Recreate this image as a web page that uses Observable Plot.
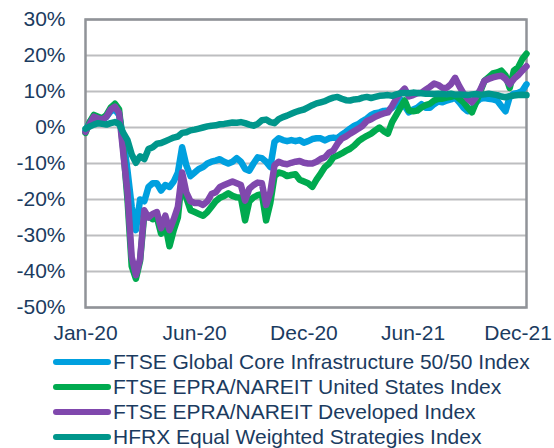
<!DOCTYPE html>
<html>
<head>
<meta charset="utf-8">
<script src="https://cdn.jsdelivr.net/npm/d3@7"></script>
<script src="https://cdn.jsdelivr.net/npm/@observablehq/plot@0.6"></script>
<style>
  html, body { margin: 0; padding: 0; background: #fff; }
  body { width: 554px; height: 448px; overflow: hidden; font-family: "Liberation Sans", Arial, sans-serif; }
  #chart svg { display: block; }
  .legend { color: #1b3b60; font-size: 21px; line-height: 1; }
  .row { display: flex; align-items: center; height: 25px; white-space: nowrap; }
  .sw { width: 58px; height: 6px; border-radius: 3px; margin-left: 53px; margin-right: 2px; flex: none; }
</style>
</head>
<body>
<div id="chart"></div>
<div class="legend" id="legend"></div>
<script>
// Series names and colours (legend order = drawing order)
const seriesNames = [
  "FTSE Global Core Infrastructure 50/50 Index",
  "FTSE EPRA/NAREIT United States Index",
  "FTSE EPRA/NAREIT Developed Index",
  "HFRX Equal Weighted Strategies Index"
];
const seriesColors = ["#00a0df", "#00aa4f", "#8048ad", "#00968b"];

// X axis tick labels and the weekly category index where each appears
const xTickLabels = ["Jan-20", "Jun-20", "Dec-20", "Jun-21", "Dec-21"];
const xTickIndex = [0, 26, 52, 78, 103];

// Y axis ticks (percent)
const yTicks = [30, 20, 10, 0, -10, -20, -30, -40, -50];

// Weekly cumulative returns (%), Jan 2020 – Dec 2021
const infra = [
  -0.8, 1.5, 3.0, 2.5, 2.0, 3.0, 4.5, 5.0, 3.5, -3.0,
  -12.0, -22.0, -28.5, -20.0, -20.5, -16.5, -15.5, -15.5, -17.5, -16.0,
  -16.5, -15.0, -12.5, -5.5, -10.5, -13.5, -12.5, -11.5, -11.0, -10.0,
  -9.5, -9.2, -8.8, -9.5, -10.0, -9.5, -8.5, -9.5, -11.5, -12.0,
  -10.0, -8.3, -8.5, -9.5, -11.0, -4.0, -3.0, -3.5, -3.8, -3.5,
  -3.8, -3.5, -4.2, -3.8, -3.2, -3.0, -3.0, -3.6, -3.0, -2.8,
  -3.0, -2.0, -1.2, -0.3, 0.5, 1.0, 1.8, 2.5, 3.5, 4.0,
  4.2, 4.6, 4.7, 5.5, 6.5, 7.8, 6.0, 4.2, 5.0, 5.5,
  6.5, 5.5, 5.5, 6.5, 7.2, 7.0, 7.5, 7.8, 8.3, 7.0,
  5.5, 4.5, 5.0, 7.0, 8.0, 8.2, 8.0, 7.8, 7.5, 6.0,
  4.5, 8.5, 9.4, 9.6, 10.2, 12.0
];
const usReit = [
  -1.5, 1.5, 3.5, 3.0, 2.5, 3.5, 5.5, 6.6, 5.0, -6.0,
  -20.0, -38.5, -42.0, -37.0, -24.0, -24.5, -25.5, -25.0, -29.5, -27.0,
  -33.0, -28.5, -25.0, -13.5, -19.5, -23.0, -23.5, -24.0, -24.5, -23.5,
  -22.0, -20.5, -19.5, -19.0, -18.3, -19.0, -19.4, -19.5, -25.8, -20.5,
  -19.4, -18.8, -18.5, -25.8, -21.0, -13.5, -12.5, -12.8, -13.5, -13.2,
  -13.0, -14.5, -15.0, -15.5, -16.5, -14.5, -12.8, -11.0, -10.0, -8.3,
  -7.8, -7.2, -6.5, -5.9, -5.0, -3.8, -3.0, -2.3, -1.7, -0.8,
  0.0, -1.0, -1.7, 1.5, 3.5, 5.6, 7.5, 4.7, 4.5, 4.7,
  5.6, 6.2, 6.6, 7.5, 8.0, 8.0, 8.3, 8.5, 8.9, 8.0,
  7.0, 5.5, 4.2, 7.0, 10.0, 13.0, 14.0, 15.0, 15.3, 15.8,
  14.5, 11.0, 15.8, 16.7, 19.0, 20.5
];
const developed = [
  -1.2, 1.0, 3.0, 2.5, 2.2, 3.0, 5.0, 5.8, 4.0, -7.2,
  -18.0, -36.0, -41.0, -36.5, -23.0, -25.0, -24.0, -23.5, -28.0, -24.5,
  -28.5, -25.5, -22.0, -12.5, -18.0, -20.5, -21.0, -21.0, -21.5, -20.5,
  -18.5, -18.0, -16.5, -16.0, -15.5, -15.0, -15.5, -16.0, -20.3, -17.0,
  -16.0, -15.3, -15.5, -21.5, -18.0, -10.5, -9.5, -10.0, -10.2, -9.8,
  -9.5, -9.3, -9.8, -10.0, -10.0, -9.5, -8.7, -8.3, -7.0, -6.4,
  -4.5, -3.1, -2.5, -1.7, -1.0, -0.3, 0.5, 1.8, 2.3, 3.0,
  3.5, 3.9, 4.2, 6.0, 8.0, 9.6, 10.8, 8.6, 9.0, 9.5,
  9.7, 10.5, 11.3, 12.2, 11.8, 11.0, 11.0, 12.0, 13.8, 11.5,
  9.5, 8.0, 7.0, 8.5, 10.5, 13.0, 13.5, 13.9, 14.2, 14.4,
  13.5, 12.0, 13.5, 14.5, 15.8, 17.0
];
const hfrx = [
  -0.3, 0.3, 0.8, 1.2, 1.0, 0.8, 1.2, 1.5, 1.0, -1.5,
  -3.5, -7.5, -9.8, -8.0, -8.8, -6.0, -5.5, -4.5, -4.3, -3.8,
  -3.3, -2.8, -2.5, -1.5, -1.3, -0.8, -0.6, -0.3, 0.0, 0.3,
  0.5, 0.6, 0.9, 1.0, 1.2, 1.4, 1.3, 1.5, 1.2, 0.8,
  0.5, 1.0, 2.0, 2.2, 1.5, 1.2, 2.3, 2.9, 3.3, 3.8,
  4.3, 4.7, 5.0, 5.6, 6.2, 6.7, 7.0, 7.3, 7.9, 8.3,
  8.5, 8.0, 7.6, 7.5, 7.8, 7.9, 8.3, 8.5, 8.2, 8.5,
  8.8, 8.9, 9.0, 8.8, 9.2, 9.5, 9.6, 9.5, 9.7, 9.6,
  9.5, 9.4, 9.4, 9.3, 9.4, 9.3, 9.2, 9.4, 9.1, 9.2,
  9.1, 9.0, 9.2, 9.3, 9.1, 9.2, 9.4, 9.2, 9.0, 8.6,
  8.4, 8.7, 8.9, 9.0, 9.1, 9.0
];

const seriesValues = [infra, usReit, developed, hfrx];
const rowsFor = (vals, s) => vals.map((v, i) => ({i, v, series: seriesNames[s]}));

const yFmt = d => `${d}%`;
const xFmt = d => xTickLabels[xTickIndex.indexOf(d)];
const textColor = "#1b3b60";

const chart = Plot.plot({
  width: 554,
  height: 349,
  marginLeft: 85,
  marginRight: 28,
  marginTop: 19,
  marginBottom: 42,
  style: {fontFamily: "'Liberation Sans', Arial, sans-serif", fontSize: "21px", color: textColor, background: "#fff", overflow: "visible"},
  x: {domain: [0, infra.length - 1]},
  y: {domain: [-50, 30]},
  color: {domain: seriesNames, range: seriesColors},
  marks: [
    Plot.gridY(yTicks, {stroke: "#bdbec0", strokeOpacity: 1, strokeWidth: 2}),
    Plot.frame({stroke: "#909398", strokeWidth: 2.5}),
    ...seriesValues.map((vals, s) =>
      Plot.line(rowsFor(vals, s), {x: "i", y: "v", stroke: "series", strokeWidth: 6.5, strokeLinejoin: "round", strokeLinecap: "round"})
    ),
    Plot.axisX(xTickIndex, {tickSize: 0, tickPadding: 18, tickFormat: xFmt, fontSize: 21, fill: textColor, label: null}),
    Plot.axisY(yTicks, {tickSize: 0, tickPadding: 20, tickFormat: yFmt, fontSize: 21, fill: textColor, label: null})
  ]
});
document.getElementById("chart").appendChild(chart);

const legend = document.getElementById("legend");
seriesNames.forEach((name, s) => {
  const row = document.createElement("div");
  row.className = "row";
  const sw = document.createElement("span");
  sw.className = "sw";
  sw.style.background = seriesColors[s];
  const label = document.createElement("span");
  label.textContent = name;
  row.appendChild(sw);
  row.appendChild(label);
  legend.appendChild(row);
});
</script>
</body>
</html>
